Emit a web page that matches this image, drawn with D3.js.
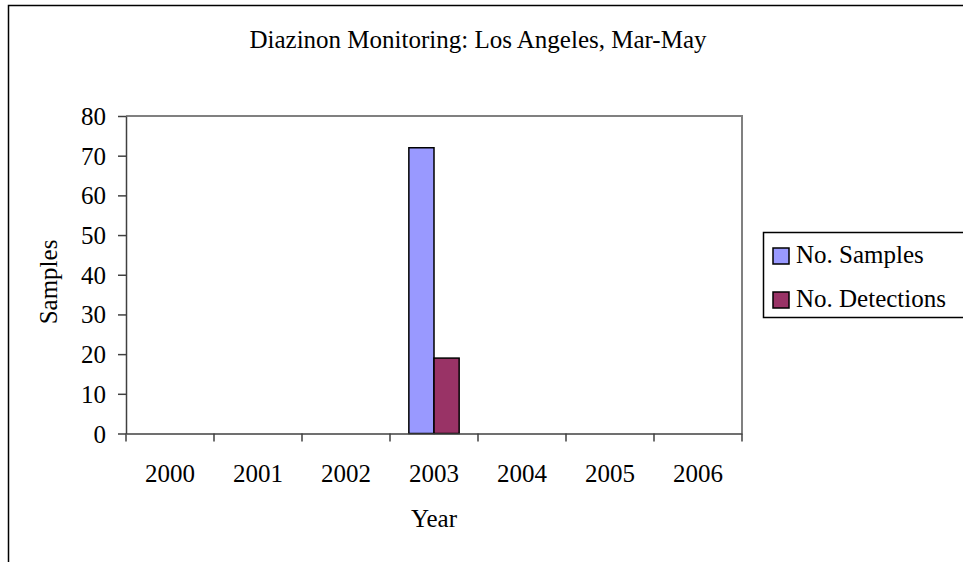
<!DOCTYPE html>
<html>
<head>
<meta charset="utf-8">
<script src="https://cdn.jsdelivr.net/npm/d3@7"></script>
<style>
  body { margin: 0; background: #fff; }
</style>
</head>
<body>
<div id="graph"></div>
<script>
// chart data
const years = ["2000", "2001", "2002", "2003", "2004", "2005", "2006"];
const seriesNames = ["No. Samples", "No. Detections"];
const samples = [0, 0, 0, 72, 0, 0, 0];
const detections = [0, 0, 0, 19, 0, 0, 0];
const yTicks = [0, 10, 20, 30, 40, 50, 60, 70, 80];
const colors = ["#9999ff", "#993366"];

const W = 963, H = 562;
const FONT = "'Liberation Serif', 'Times New Roman', serif";
const plot = { left: 126, top: 116, right: 742, bottom: 433.5 };

//setup and return svg
function setupSVG() {
  const svg = d3.select("#graph").append("svg")
    .attr("width", W).attr("height", H)
    .attr("font-family", FONT);
  // outer chart border (runs past the image edge)
  svg.append("rect")
    .attr("x", 8.5).attr("y", 5.5)
    .attr("width", 1000).attr("height", 700)
    .attr("fill", "#fff").attr("stroke", "#000").attr("stroke-width", 1.5);
  return svg;
}

const svg = setupSVG();

const x = d3.scaleBand().domain(years).range([plot.left, plot.right]).padding(0);
const x1 = d3.scaleBand().domain(seriesNames).range([0, x.bandwidth()]).paddingOuter(0.75).paddingInner(0);
const y = d3.scaleLinear().domain([0, 80]).range([plot.bottom, plot.top]);

// plot area frame (top and right)
svg.append("path")
  .attr("d", `M${plot.left},${plot.top}H${plot.right}V${plot.bottom}`)
  .attr("fill", "none").attr("stroke", "#808080").attr("stroke-width", 2);

//draw bars
const rows = years.map((yr, i) => ({ year: yr, values: [samples[i], detections[i]] }));
svg.append("g")
  .selectAll("g")
  .data(rows)
  .enter()
  .append("g")
  .attr("transform", (d) => "translate(" + x(d.year) + ",0)")
  .selectAll("rect")
  .data((d) => d.values.map((v, k) => ({ key: seriesNames[k], value: v, k: k })).filter((e) => e.value > 0))
  .enter()
  .append("rect")
  .attr("x", (d) => x1(d.key))
  .attr("y", (d) => y(d.value))
  .attr("width", x1.bandwidth())
  .attr("height", (d) => y(0) - y(d.value))
  .attr("fill", (d) => colors[d.k])
  .attr("stroke", "#000")
  .attr("stroke-width", 1.5);

//axes
const yAxis = svg.append("g")
  .attr("transform", "translate(" + plot.left + ",0)")
  .call(d3.axisLeft(y).tickValues(yTicks).tickSize(8).tickPadding(12).tickSizeOuter(0));
yAxis.attr("font-family", FONT).attr("font-size", 25);
yAxis.selectAll("text").attr("dy", "0.34em");
yAxis.selectAll("line, path").attr("stroke", "#404040").attr("stroke-width", 1.5);

const xAxis = svg.append("g")
  .attr("transform", "translate(0," + plot.bottom + ")")
  .call(d3.axisBottom(x).tickSize(0).tickPadding(31).tickSizeOuter(0));
xAxis.attr("font-family", FONT).attr("font-size", 25);
xAxis.select("path").attr("stroke", "#404040").attr("stroke-width", 1.5);
// tick marks sit on the category boundaries
xAxis.selectAll(".edge")
  .data(years.map((d) => x(d)).concat([x.range()[1]]))
  .enter()
  .append("line")
  .attr("x1", (d) => d).attr("x2", (d) => d)
  .attr("y1", 0).attr("y2", 8)
  .attr("stroke", "#404040").attr("stroke-width", 1.5);

//titles
svg.append("text")
  .attr("x", 478).attr("y", 48)
  .attr("text-anchor", "middle")
  .attr("font-size", 25)
  .text("Diazinon Monitoring: Los Angeles, Mar-May");
svg.append("text")
  .attr("x", (plot.left + plot.right) / 2).attr("y", 527)
  .attr("text-anchor", "middle")
  .attr("font-size", 25)
  .text("Year");
svg.append("text")
  .attr("transform", "translate(57," + 282 + ") rotate(-90)")
  .attr("text-anchor", "middle")
  .attr("font-size", 25)
  .text("Samples");

//legend
function addLegend() {
  const lg = svg.append("g").attr("transform", "translate(763,232)");
  lg.append("rect")
    .attr("x", 0.5).attr("y", 0.5)
    .attr("width", 400).attr("height", 85)
    .attr("fill", "#fff").attr("stroke", "#000").attr("stroke-width", 1.5);
  const items = lg.selectAll("g.item")
    .data(seriesNames)
    .enter()
    .append("g")
    .attr("transform", (d, i) => "translate(0," + i * 44 + ")");
  items.append("rect")
    .attr("x", 10).attr("y", 16)
    .attr("width", 16).attr("height", 16)
    .attr("fill", (d, i) => colors[i])
    .attr("stroke", "#000").attr("stroke-width", 1.5);
  items.append("text")
    .attr("x", 33).attr("y", 31)
    .attr("font-size", 25)
    .text((d) => d);
}
addLegend();
</script>
</body>
</html>
